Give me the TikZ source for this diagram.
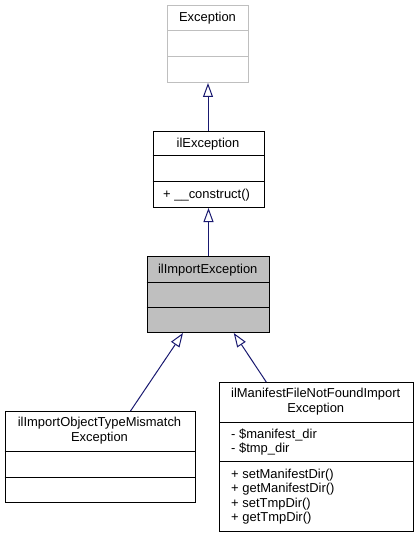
\documentclass[tikz,border=0pt]{standalone}
\usepackage{fontspec}
\setmainfont{Liberation Sans}
\usetikzlibrary{arrows.meta}
\definecolor{edgeblue}{HTML}{191970}
\definecolor{greyborder}{HTML}{BFBFBF}
\definecolor{greyfill}{HTML}{BFBFBF}
\begin{document}
\begin{tikzpicture}[x=1bp,y=-1bp,
  cls/.style={draw=black, line width=1bp, inner sep=0pt, anchor=north west},
  txt/.style={font=\fontsize{13}{14.5}\selectfont, inner sep=0pt, anchor=base},
  mem/.style={txt, anchor=base west},
  divline/.style={draw=black, line width=1bp},
  inh/.style={draw=edgeblue, line width=1bp, {Triangle[open,length=14bp,width=10bp]}-}
]
\useasboundingbox (0,0) rectangle (418,537);
% Exception
\node[cls, draw=greyborder, minimum width=81bp, minimum height=77bp] (exc) at (167,5) {};
\draw[divline, draw=greyborder] (exc.west |- 0,31) -- (exc.east |- 0,31);
\draw[divline, draw=greyborder] (exc.west |- 0,57) -- (exc.east |- 0,57);
\node[txt] (texc) at (207.5,21.5) {Exception};
% ilException
\node[cls, minimum width=111bp, minimum height=76bp] (ilexc) at (152.5,131) {};
\draw[divline] (ilexc.west |- 0,156) -- (ilexc.east |- 0,156);
\draw[divline] (ilexc.west |- 0,182) -- (ilexc.east |- 0,182);
\node[txt] (tilexc) at (208,148) {ilException};
\node[mem] (mcons) at (163,199) {+ \_\_construct()};
% ilImportException
\node[cls, fill=greyfill, minimum width=122.5bp, minimum height=76bp] (imp) at (146.5,256) {};
\draw[divline] (imp.west |- 0,282) -- (imp.east |- 0,282);
\draw[divline] (imp.west |- 0,307) -- (imp.east |- 0,307);
\node[txt] (timp) at (207.75,273) {ilImportException};
% ilImportObjectTypeMismatchException
\node[cls, minimum width=190bp, minimum height=90.5bp] (left) at (4.5,411) {};
\draw[divline] (left.west |- 0,451) -- (left.east |- 0,451);
\draw[divline] (left.west |- 0,477) -- (left.east |- 0,477);
\node[txt] (tleft1) at (99.5,426.5) {ilImportObjectTypeMismatch};
\node[txt] (tleft2) at (99.5,441) {Exception};
% ilManifestFileNotFoundImportException
\node[cls, minimum width=193.5bp, minimum height=149bp] (right) at (219,382) {};
\draw[divline] (right.west |- 0,422) -- (right.east |- 0,422);
\draw[divline] (right.west |- 0,461.5) -- (right.east |- 0,461.5);
\node[txt] (tright1) at (315.75,397.5) {ilManifestFileNotFoundImport};
\node[txt] (tright2) at (315.75,412) {Exception};
\node[mem] (a1) at (231,438) {- \$manifest\_dir};
\node[mem] (a2) at (231,452.5) {- \$tmp\_dir};
\node[mem] (m1) at (231,478) {+ setManifestDir()};
\node[mem] (m2) at (231,492.5) {+ getManifestDir()};
\node[mem] (m3) at (231,507) {+ setTmpDir()};
\node[mem] (m4) at (231,521.5) {+ getTmpDir()};
% inheritance connectors
\draw[inh] (exc.south) -- (exc.south |- ilexc.north);
\draw[inh] (ilexc.south) -- (ilexc.south |- imp.north);
\draw[inh] ([xshift=-25.25bp]imp.south) -- ([xshift=30.5bp]left.north);
\draw[inh] ([xshift=25.5bp]imp.south) -- ([xshift=-50bp]right.north);
\end{tikzpicture}
\end{document}
